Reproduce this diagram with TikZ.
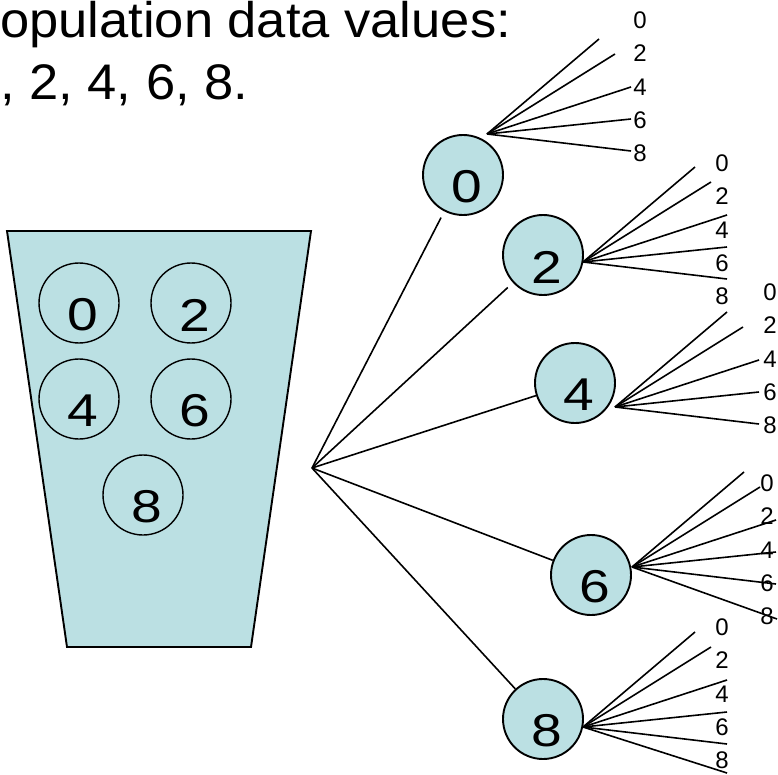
\documentclass[tikz,border=0pt]{standalone}
\usepackage{fontspec}
\setmainfont{Liberation Sans}
\definecolor{urn}{RGB}{187,224,227}
\begin{document}
\begin{tikzpicture}[x=1pt,y=-1pt,
	ball/.style={circle,draw,fill=urn,line width=1.9pt,minimum size=80pt,inner sep=0pt},
	ballnum/.style={font=\fontsize{46}{46}\selectfont,xshift=4pt,yshift=-12pt,xscale=1.2,transform shape},
	ttl/.style={anchor=base west,inner sep=0pt,font=\fontsize{50}{60}\selectfont,xscale=1.05,transform shape},
	tip/.style={inner sep=0pt,font=\fontsize{24}{24}\selectfont},
	lnk/.style={line width=1.6pt}]
	\useasboundingbox (0,0) rectangle (778,775);
	\clip (0,0) rectangle (778,775);

	\node[ttl] (ttl1) at (0,38) {opulation data values:};
	\node[ttl] (ttl2) at (0,100) {, 2, 4, 6, 8.};

	% the urn
	\draw[fill=urn,line width=1.9pt] (7,231) -- (311,231) -- (251,647) -- (67,647) -- cycle;
	\node[ball,fill=none,line width=1.4pt,label={[ballnum]center:0}] (u0) at (79,303) {};
	\node[ball,fill=none,line width=1.4pt,label={[ballnum]center:2}] (u2) at (191,303) {};
	\node[ball,fill=none,line width=1.4pt,label={[ballnum]center:4}] (u4) at (79,399) {};
	\node[ball,fill=none,line width=1.4pt,label={[ballnum]center:6}] (u6) at (191,399) {};
	\node[ball,fill=none,line width=1.4pt,label={[ballnum]center:8}] (u8) at (143,495) {};

	% first draw
	\coordinate (hub) at (312,468);
	\node[ball,label={[ballnum]center:0}] (t0) at (463,175) {};
	\node[ball,label={[ballnum]center:2}] (t2) at (543,255) {};
	\node[ball,label={[ballnum]center:4}] (t4) at (575,383) {};
	\node[ball,label={[ballnum]center:6}] (t6) at (591,575) {};
	\node[ball,label={[ballnum]center:8}] (t8) at (543,719) {};
	\draw[lnk,shorten >=7pt] (hub) -- (t0);
	\draw[lnk,shorten >=7pt] (hub) -- (t2);
	\draw[lnk] (hub) -- (t4);
	\draw[lnk] (hub) -- (t6);
	\draw[lnk] (hub) -- (t8);

	% second draw
	\coordinate (f0) at (487,134);
	\coordinate (f2) at (583,262);
	\coordinate (f4) at (615,407);
	\coordinate (f6) at (632,567);
	\coordinate (f8) at (583,727);
	\foreach \f in {f0,f2,f4,f6,f8}
		\foreach \dx/\dy [count=\k] in {112/-95,128/-80,144/-47,144/-15,144/17} {
			\path (\f) ++(\dx,\dy) coordinate (\f e\k);
			\draw[lnk] (\f) -- (\f e\k);
		}
	\path (f6) ++(145,52) coordinate (f6e6);
	\draw[lnk] (f6) -- (f6e6);
	\path (f8) ++(144,46) coordinate (f8e6);
	\draw[lnk] (f8) -- (f8e6);

	\foreach \f/\x/\y in {f0/640/20,f2/722/163,f4/770/292,f6/767/483,f8/722/627}
		\foreach \v [count=\k from 0] in {0,2,4,6,8}
			\node[tip] (\f l\v) at (\x,{\y+33.4*\k}) {\v};
\end{tikzpicture}
\end{document}
